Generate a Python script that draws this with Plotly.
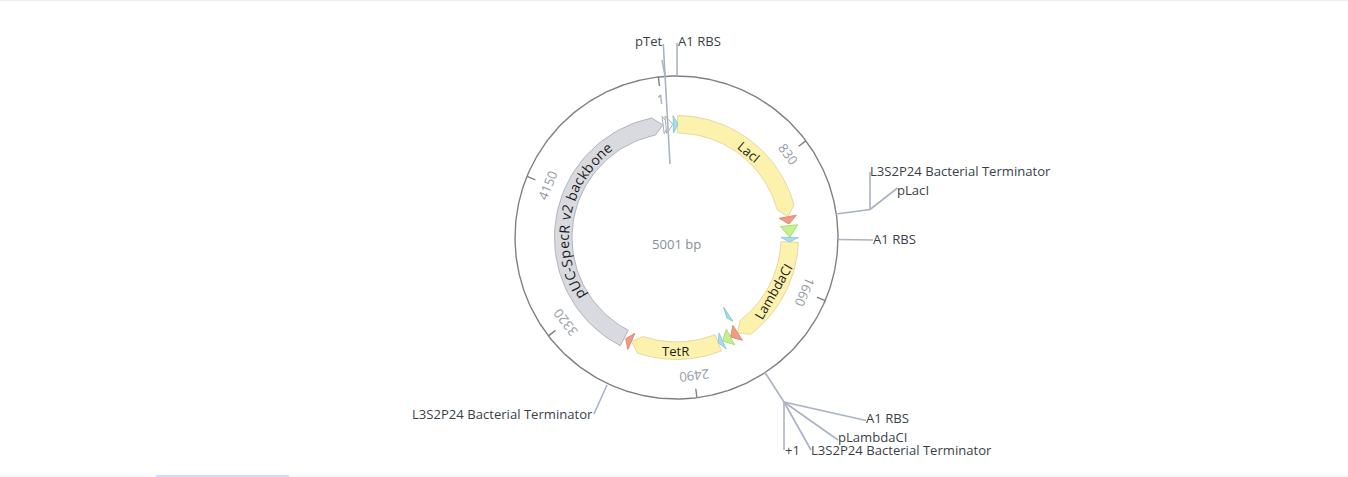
"""Circular plasmid map, 5001 bp, drawn on a pixel-sized Plotly axis."""

import numpy as np
import plotly.graph_objects as go

# ---------------------------------------------------------------------------
# Data (positions in base pairs)
# ---------------------------------------------------------------------------
PLASMID_BP = 5001
PLASMID_TITLE = "5001 bp"

TICK_BP = [1, 830, 1660, 2490, 3320, 4150]
TICK_LABELS = ["1", "830", "1660", "2490", "3320", "4150"]

# arrow features with a body
GENE_NAMES = ["LacI", "LambdaCI", "TetR", "pUC-SpecR v2 backbone"]
GENE_START = [97, 1372, 2290, 2972]
GENE_END = [1194, 2138, 2917, 4996]
GENE_KIND = ["cds", "cds", "cds", "backbone"]

# small triangular features
PART_NAMES = ["pTet", "pTet", "A1 RBS", "L3S2P24", "A1 RBS", "pLambdaCI", "L3S2P24",
              "A1 RBS", "pLacI", "L3S2P24"]
PART_START = [4997, 15, 68, 1194, 1257, 1340, 2137, 2195, 2257, 2917]
PART_END = [5038, 66, 100, 1245, 1340, 1372, 2195, 2257, 2290, 2961]
PART_KIND = ["promoter", "promoter", "rbs", "terminator", "green", "blue", "terminator",
             "green", "blue", "terminator"]

# the small sliver sitting inside the backbone ring
INNER_START = 2118
INNER_END = 2145

# ---------------------------------------------------------------------------
# Layout constants (pixels)
# ---------------------------------------------------------------------------
WIDTH, HEIGHT = 1348, 477
CX, CY = 676.5, 237.5
R_RING = 161.5
R_IN, R_OUT = 104.5, 122.0
R_MID = (R_IN + R_OUT) / 2
R_TICK = 152.5
R_TICK_TEXT = 139.5
ZERO_ANGLE = -6.5
HEAD_BP = 68

TEXT_FONT = "Open Sans"
TEXT_SIZE = 13.1
TEXT_COLOR = "#3a3f47"
GENE_TEXT = "#1c1c1c"
TICK_TEXT = "#949aa5"
LEADER = "#aab3c2"

FILLS = {
    "cds": ("#fdf2ad", "#e4d9a2"),
    "backbone": ("#d9dadf", "#b3b4ba"),
    "promoter": ("#ffffff", "#a9aeb8"),
    "rbs": ("#9fdfe5", "#8ccbd2"),
    "terminator": ("#ef9c83", "#dc8b73"),
    "green": ("#c3f28a", "#aedb7a"),
    "blue": ("#a5dfee", "#92cbdc"),
}

# leader lines and their labels
LEADER_PATHS = [
    [(663.3, 44), (670, 164)],
    [(662, 60), (665, 76)],
    [(677, 75), (677, 43)],
    [(836, 214), (870, 209.5), (870, 172)],
    [(870, 209.5), (897.5, 188)],
    [(838, 239.5), (873, 240)],
    [(765, 372.5), (784, 402), (866, 420.5)],
    [(784, 402), (838, 440)],
    [(784, 402), (811, 450)],
    [(784, 402), (784, 450)],
    [(607, 385), (594, 414)],
]
LABEL_TEXT = ["pTet", "A1 RBS", "L3S2P24 Bacterial Terminator", "pLacI", "A1 RBS", "A1 RBS",
              "pLambdaCI", "L3S2P24 Bacterial Terminator", "+1", "L3S2P24 Bacterial Terminator"]
LABEL_X = [665, 676, 868, 895, 871, 864, 836, 809, 783, 595]
LABEL_Y = [41, 41, 171, 190, 239, 418, 437, 450, 450, 414]
LABEL_ANCHOR = ["right", "left", "left", "left", "left", "left", "left", "left", "left", "right"]


# ---------------------------------------------------------------------------
# Helpers
# ---------------------------------------------------------------------------
def bp_angle(bp):
    return ZERO_ANGLE + np.asarray(bp, dtype=float) * 360.0 / PLASMID_BP


def polar(bp, radius):
    a = np.radians(bp_angle(bp))
    return CX + radius * np.sin(a), CY - radius * np.cos(a)


def gene_outline(start, end):
    shoulder = end - HEAD_BP
    arc = np.linspace(start, shoulder, 60)
    xo, yo = polar(arc, R_OUT)
    xt, yt = polar(end, R_MID)
    xi, yi = polar(arc[::-1], R_IN)
    return np.r_[xo, xt, xi, xo[0]], np.r_[yo, yt, yi, yo[0]]


def triangle(start, end, r_in=R_IN, r_out=R_OUT, r_tip=R_MID):
    x0, y0 = polar(start, r_out)
    x1, y1 = polar(end, r_tip)
    x2, y2 = polar(start, r_in)
    return [x0, x1, x2, x0], [y0, y1, y2, y0]


def add_shape(fig, x, y, kind):
    fill, stroke = FILLS[kind]
    fig.add_trace(go.Scatter(x=x, y=y, mode="lines", fill="toself", fillcolor=fill,
                             line=dict(color=stroke, width=1), hoverinfo="skip"))


def add_text(fig, x, y, text, color=TEXT_COLOR, angle=0, anchor="center", size=TEXT_SIZE):
    fig.add_annotation(x=x, y=y, text=text, showarrow=False, textangle=angle, xanchor=anchor,
                       yanchor="middle", font=dict(family=TEXT_FONT, size=size, color=color))


# ---------------------------------------------------------------------------
# Figure
# ---------------------------------------------------------------------------
fig = go.Figure()

# outer ring
ring = np.linspace(0, PLASMID_BP, 361)
ring_x, ring_y = polar(ring, R_RING)
fig.add_trace(go.Scatter(x=ring_x, y=ring_y, mode="lines", line=dict(color="#808080", width=1.4),
                         hoverinfo="skip"))

# ticks and their rotated labels
for bp, label in zip(TICK_BP, TICK_LABELS):
    x0, y0 = polar(bp, R_RING)
    x1, y1 = polar(bp, R_TICK)
    fig.add_trace(go.Scatter(x=[x0, x1], y=[y0, y1], mode="lines",
                             line=dict(color="#808080", width=1.4), hoverinfo="skip"))
    tx, ty = polar(bp, R_TICK_TEXT)
    add_text(fig, float(tx), float(ty), label, color=TICK_TEXT, angle=float(bp_angle(bp)))

# genes and small parts
for start, end, kind in zip(GENE_START, GENE_END, GENE_KIND):
    x, y = gene_outline(start, end)
    add_shape(fig, x, y, kind)

for start, end, kind in zip(PART_START, PART_END, PART_KIND):
    x, y = triangle(start, end)
    add_shape(fig, x, y, kind)

x, y = triangle(INNER_START, INNER_END, 84, 101, 95)
add_shape(fig, x, y, "rbs")

# leader lines
for path in LEADER_PATHS:
    xs, ys = zip(*path)
    fig.add_trace(go.Scatter(x=xs, y=ys, mode="lines", line=dict(color=LEADER, width=1.6),
                             hoverinfo="skip"))

for x, y, text, anchor in zip(LABEL_X, LABEL_Y, LABEL_TEXT, LABEL_ANCHOR):
    add_text(fig, x, y, text, anchor=anchor)

add_text(fig, 676, 244, PLASMID_TITLE, color="#868e99")

# straight gene names
add_text(fig, 749, 152, GENE_NAMES[0], color=GENE_TEXT, angle=40)
add_text(fig, 773, 292, GENE_NAMES[1], color=GENE_TEXT, angle=-60)
add_text(fig, 675, 351, GENE_NAMES[2], color=GENE_TEXT)

# the backbone name follows the arc, one glyph at a time
CHAR_EM = {"p": .61, "U": .73, "C": .63, "-": .32, "S": .55, "e": .56, "c": .48, "R": .62,
           " ": .26, "v": .5, "2": .57, "b": .61, "a": .56, "k": .53, "o": .6, "n": .61}
arc_angle = 237.0
for ch in GENE_NAMES[3]:
    step = CHAR_EM[ch] * 15.35 / R_MID * 180 / np.pi
    mid = np.radians(arc_angle + step / 2)
    px, py = CX + R_MID * np.sin(mid), CY - R_MID * np.cos(mid)
    if ch != " ":
        add_text(fig, float(px), float(py), ch, color=GENE_TEXT, angle=float(arc_angle + step / 2),
                 size=14)
    arc_angle += step

# page edges: the thin rule at the top and the tinted strip along the bottom
fig.add_shape(type="rect", x0=0, x1=WIDTH, y0=0, y1=1, fillcolor="#ececec", line_width=0, layer="below")
fig.add_shape(type="rect", x0=0, x1=WIDTH, y0=475, y1=477, fillcolor="#f8f8fe", line_width=0, layer="below")
fig.add_shape(type="rect", x0=156, x1=289, y0=475, y1=477, fillcolor="#d2d9fa", line_width=0, layer="below")

fig.update_layout(
    width=WIDTH, height=HEIGHT, autosize=False,
    margin=dict(l=0, r=0, t=0, b=0), showlegend=False,
    paper_bgcolor="white", plot_bgcolor="white",
    xaxis=dict(range=[0, WIDTH], visible=False, fixedrange=True),
    yaxis=dict(range=[HEIGHT, 0], visible=False, fixedrange=True),
)

# the default page has a body margin; drop it so the figure fills the window
fig.write_html("out.html", config={"displayModeBar": False},
               post_script="document.body.style.margin = '0';")
